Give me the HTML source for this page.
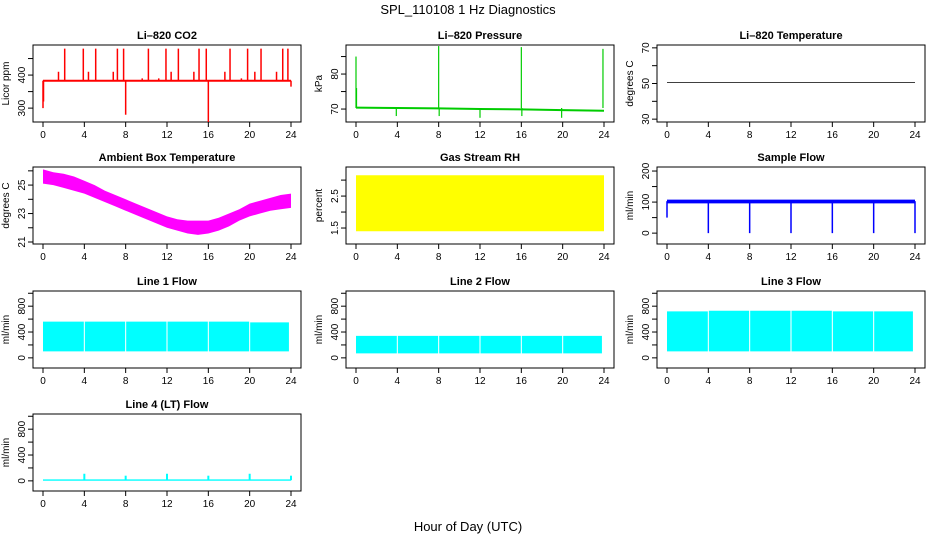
<!DOCTYPE html>
<html><head><meta charset="utf-8"><style>
html,body{margin:0;padding:0;background:#fff}
svg{display:block;font-family:"Liberation Sans",sans-serif}
</style></head><body>
<svg id="c" width="936" height="540" viewBox="0 0 936 540">
<text x="468" y="14" text-anchor="middle" font-size="13">SPL_110108  1 Hz Diagnostics</text>
<text x="468" y="531" text-anchor="middle" font-size="13">Hour of Day (UTC)</text>
</svg>
<script>
const xTicks=[0,4,8,12,16,20,24];
// CO2
const co2Base=383;
const co2SpikeHours=[0,0.05,1.5,2.1,3.9,4.4,5.1,6.8,7.2,7.8,8.0,9.6,10.2,11.2,11.9,12.4,13.1,14.6,15.1,15.8,16.0,17.6,18.1,19.2,19.8,20.5,21.1,22.6,23.2,23.7,24];
const co2SpikeValues=[300,320,410,480,480,410,480,410,480,480,280,390,480,390,480,410,480,410,480,480,258,410,480,390,480,410,480,410,480,480,365];
// Pressure
const presHours=[0,4,8,12,16,20,24];
const presBase=[70.4,70.3,70.2,70.0,69.9,69.7,69.5];
const presSpikeHours=[0,0.05,3.9,8,8.05,12,16,16.05,19.9,23.9];
const presSpikeValues=[85,76,68,88,68,67.5,87.7,68,67.5,87.2];
// Temperature
const tempHours=[0,24];
const tempValues=[50.5,50.5];
// Ambient box temperature band
const ambHours=[0,1,2,3,4,5,6,7,8,9,10,11,12,13,14,15,16,17,18,19,20,21,22,23,24];
const ambLow=[25.1,25.0,24.8,24.6,24.4,24.1,23.8,23.5,23.2,22.9,22.6,22.3,22.0,21.8,21.6,21.5,21.6,21.8,22.1,22.5,22.8,23.0,23.2,23.3,23.4];
const ambHigh=[26.1,25.9,25.8,25.6,25.3,25.0,24.6,24.3,24.0,23.7,23.4,23.1,22.8,22.6,22.5,22.5,22.5,22.7,23.0,23.3,23.7,23.9,24.1,24.3,24.4];
// Gas stream RH band
const rhHours=[0,24];
const rhLow=[1.4,1.4];
const rhHigh=[3.15,3.15];
// Sample flow
const sfBase=103;
const sfDipHours=[0,4,8,12,16,20,24];
const sfDipValues=[50,0,0,0,0,0,0];
// Line flows (segment start/end hours with low/high)
const segStarts=[0,4.05,8.05,12.05,16.05,20.05];
const segEnds=[3.95,7.95,11.95,15.95,19.95,23.8];
const l1Low=[100,100,100,100,100,100];
const l1High=[560,560,560,560,560,550];
const l2Low=[70,70,70,70,70,70];
const l2High=[340,340,340,340,340,340];
const l3Low=[100,100,100,100,100,100];
const l3High=[720,730,730,730,720,720];
const l4Base=10;
const l4SpikeHours=[4,8,12,16,20,24];
const l4SpikeValues=[110,80,110,80,110,80];

const svg=document.getElementById('c');
const NS='http://www.w3.org/2000/svg';
function mk(t,a,p){const e=document.createElementNS(NS,t);for(const k in a)e.setAttribute(k,a[k]);(p||svg).appendChild(e);return e;}
const colL=[33,346,657],rowT=[45,167,291,414],W=268,H=77;
function panel(c,r,title,ylab,ymin,ymax,ticks,labels,name){
  const g=mk('g',{});
  
  
  const L=colL[c],T=rowT[r];
  const xs=h=>L+10+h/24*(W-20);
  const ys=v=>T+H-(v-ymin)/(ymax-ymin)*H;
  const t=mk('text',{x:L+W/2,y:T-6,'text-anchor':'middle','font-size':11,'font-weight':'bold'},g);t.textContent=title;
  
  
  const yl=mk('text',{x:0,y:0,'text-anchor':'middle','font-size':10,transform:`translate(${L-24},${T+H/2}) rotate(-90)`},g);yl.textContent=ylab;
  
  
  const box=mk('rect',{x:L,y:T,width:W,height:H,fill:'none',stroke:'#000'},g);
  
  
  xTicks.forEach(h=>{mk('line',{x1:xs(h),x2:xs(h),y1:T+H,y2:T+H+5,stroke:'#000'},g);
    const tx=mk('text',{x:xs(h),y:T+H+16,'text-anchor':'middle','font-size':10},g);tx.textContent=h;
    
    });
  ticks.forEach(v=>{mk('line',{x1:L,x2:L-5,y1:ys(v),y2:ys(v),stroke:'#000'},g);});
  labels.forEach(v=>{const tx=mk('text',{x:0,y:0,'text-anchor':'middle','font-size':10,transform:`translate(${L-8},${ys(v)}) rotate(-90)`},g);tx.textContent=v;
    
    });
  const d=mk('g',{},g);
  
  
  return {xs,ys,g:d};
}
function band(p,hours,lo,hi,col){
  let s='';hours.forEach((h,i)=>s+=p.xs(h)+','+p.ys(hi[i])+' ');
  for(let i=hours.length-1;i>=0;i--)s+=p.xs(hours[i])+','+p.ys(lo[i])+' ';
  mk('polygon',{points:s,fill:col},p.g);
}
function spikes(p,hours,vals,base,col,w){hours.forEach((h,i)=>mk('line',{x1:p.xs(h),x2:p.xs(h),y1:p.ys(base),y2:p.ys(vals[i]),stroke:col,'stroke-width':w},p.g));}
function segs(p,lo,hi,col){segStarts.forEach((s,i)=>band(p,[s,segEnds[i]],[lo[i],lo[i]],[hi[i],hi[i]],col));}

let p=panel(0,0,'Li\u2013820 CO2','Licor ppm',258,491,[300,350,400,450],[300,400],'co2');
mk('line',{x1:p.xs(0),x2:p.xs(24),y1:p.ys(co2Base),y2:p.ys(co2Base),stroke:'red','stroke-width':2},p.g);
spikes(p,co2SpikeHours,co2SpikeValues,co2Base,'red',1.5);

p=panel(1,0,'Li\u2013820 Pressure','kPa',66.3,88.3,[70,75,80,85],[70,80],'pressure');
let s='';presHours.forEach((h,i)=>s+=p.xs(h)+','+p.ys(presBase[i])+' ');
mk('polyline',{points:s,fill:'none',stroke:'#00cc00','stroke-width':2},p.g);
spikes(p,presSpikeHours,presSpikeValues,70.3,'#00cc00',1.2);

p=panel(2,0,'Li\u2013820 Temperature','degrees C',28.4,71.6,[30,40,50,60,70],[30,50,70],'temperature');
mk('line',{x1:p.xs(tempHours[0]),x2:p.xs(tempHours[1]),y1:p.ys(tempValues[0]),y2:p.ys(tempValues[1]),stroke:'#000','stroke-width':0.8},p.g);

p=panel(0,1,'Ambient Box Temperature','degrees C',20.86,26.27,[21,22,23,24,25,26],[21,23,25],'ambient-temp');
band(p,ambHours,ambLow,ambHigh,'#ff00ff');

p=panel(1,1,'Gas Stream RH','percent',1.0,3.41,[1.5,2.0,2.5,3.0],[1.5,2.5],'gas-rh');
band(p,rhHours,rhLow,rhHigh,'#ffff00');

p=panel(2,1,'Sample Flow','ml/min',-35,213,[0,50,100,150,200],[0,100,200],'sample-flow');
band(p,[0,24],[96,96],[108,108],'#0000ff');
spikes(p,sfDipHours,sfDipValues,sfBase,'#0000ff',1.5);

p=panel(0,2,'Line 1 Flow','ml/min',-157,1035,[0,200,400,600,800,1000],[0,400,800],'line1-flow');
segs(p,l1Low,l1High,'#00ffff');
p=panel(1,2,'Line 2 Flow','ml/min',-157,1035,[0,200,400,600,800,1000],[0,400,800],'line2-flow');
segs(p,l2Low,l2High,'#00ffff');
p=panel(2,2,'Line 3 Flow','ml/min',-157,1035,[0,200,400,600,800,1000],[0,400,800],'line3-flow');
segs(p,l3Low,l3High,'#00ffff');
p=panel(0,3,'Line 4 (LT) Flow','ml/min',-157,1035,[0,200,400,600,800,1000],[0,400,800],'line4-flow');
band(p,[0,24],[l4Base-8,l4Base-8],[l4Base+12,l4Base+12],'#00ffff');
spikes(p,l4SpikeHours,l4SpikeValues,l4Base,'#00ffff',2);
</script>
</body></html>
